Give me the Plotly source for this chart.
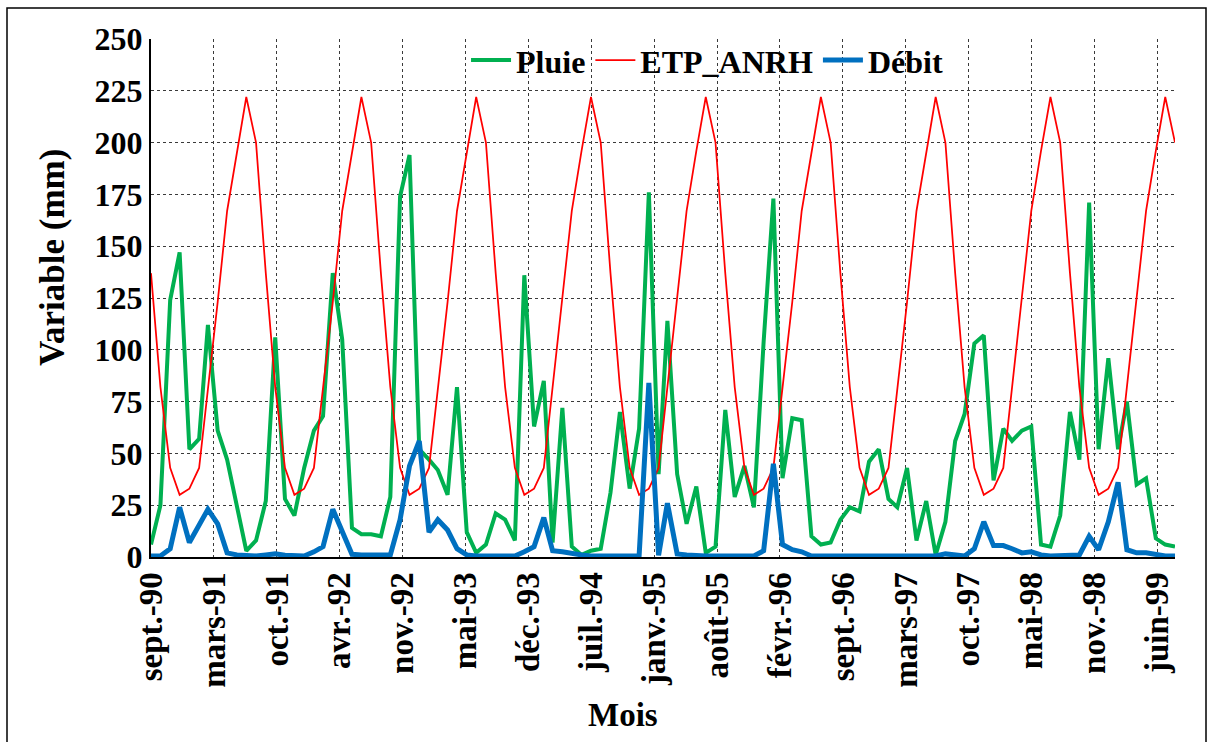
import plotly.graph_objects as go
import pandas as pd

# Monthly series, Sept 1990 -> Aug 1999 (108 months)
months = pd.date_range("1990-09-01", periods=108, freq="MS")

pluie = [6, 25, 124, 147, 52, 57, 112, 61, 47, 25, 3, 8,
         27, 106, 28, 20, 43, 61, 68, 137, 105, 14, 11, 11,
         10, 29, 174, 194, 52, 47, 42, 30, 82, 12, 2, 6,
         21, 18, 8, 136, 63, 85, 7, 72, 5, 1, 3, 4,
         31, 70, 33, 62, 176, 40, 114, 40, 16, 34, 2, 5,
         71, 29, 44, 24, 104, 173, 38, 67, 66, 10, 6, 7,
         18, 24, 22, 46, 52, 28, 24, 43, 8, 27, 1, 17,
         56, 69, 103, 107, 37, 62, 56, 61, 63, 6, 5, 20,
         70, 47, 171, 52, 96, 52, 75, 35, 38, 9, 6, 5]

etp_anrh = [137, 82, 43, 30, 33, 43, 81, 123, 167, 196, 222, 200,
            137, 82, 43, 30, 33, 43, 81, 123, 167, 196, 222, 200,
            137, 82, 43, 30, 33, 43, 81, 123, 167, 196, 222, 200,
            137, 82, 43, 30, 33, 43, 81, 123, 167, 196, 222, 200,
            137, 82, 43, 30, 33, 43, 81, 123, 167, 196, 222, 200,
            137, 82, 43, 30, 33, 43, 81, 123, 167, 196, 222, 200,
            137, 82, 43, 30, 33, 43, 81, 123, 167, 196, 222, 200,
            137, 82, 43, 30, 33, 43, 81, 123, 167, 196, 222, 200,
            137, 82, 43, 30, 33, 43, 81, 123, 167, 196, 222, 200]

debit = [0.5, 0.5, 4, 24, 7, 15, 23, 16, 2, 1, 0.5, 0.5,
         1, 1.5, 0.8, 0.5, 0.5, 2.5, 5, 23, 12, 1.3, 1, 0.8,
         0.8, 1, 18, 44, 56, 12, 18, 13, 4, 1, 0.5, 0.5,
         0.5, 0.5, 0.5, 2.5, 5, 19, 3, 2.5, 1.5, 1, 0.5, 0.5,
         0.5, 0.5, 0.5, 0.5, 84, 0.8, 26, 1.5, 1, 0.5, 0.5, 0.5,
         0.5, 0.5, 0.5, 0.5, 3, 45, 6, 3.5, 2.5, 0.5, 0.5, 0.5,
         0.5, 0.5, 0.5, 0.5, 0.5, 0.5, 0.5, 1, 1, 1, 0.5, 1.5,
         1, 0.5, 4, 17, 5.5, 5.5, 4, 2, 2.5, 1, 0.5, 0.5,
         0.5, 1, 10, 3.5, 17, 36, 3.5, 2, 2, 1, 0.5, 0.5]

# Excel date axis: major unit 200 days
tick_dates = pd.date_range("1990-09-01", periods=17, freq="200D")
tick_labels = ["sept.-90", "mars-91", "oct.-91", "avr.-92", "nov.-92", "mai-93",
               "déc.-93", "juil.-94", "janv.-95", "août-95", "févr.-96", "sept.-96",
               "mars-97", "oct.-97", "mai-98", "nov.-98", "juin-99"]

x_title = "Mois"
y_title = "Variable (mm)"

FONT = "Liberation Serif, Times New Roman, serif"

def f(size):
    return dict(family=FONT, size=size, color="black", weight="bold")

fig = go.Figure()
fig.add_trace(go.Scatter(x=months, y=pluie, name="Pluie", mode="lines",
                         line=dict(color="#00B050", width=4)))
fig.add_trace(go.Scatter(x=months, y=etp_anrh, name="ETP_ANRH", mode="lines",
                         line=dict(color="#FF0000", width=1.75)))
fig.add_trace(go.Scatter(x=months, y=debit, name="Débit", mode="lines",
                         line=dict(color="#0070C0", width=5)))

fig.update_layout(
    width=1214, height=742,
    margin=dict(l=151, r=39, t=39, b=185),
    paper_bgcolor="white", plot_bgcolor="white",
    font=f(32),
    legend=dict(orientation="h", x=0.543, y=0.959, xanchor="center", yanchor="middle",
                bgcolor="rgba(0,0,0,0)", font=f(32),
                itemwidth=40, tracegroupgap=0),
    xaxis=dict(type="date", range=["1990-09-01", "1999-08-01"],
               tickmode="array", tickvals=tick_dates, ticktext=tick_labels,
               tickangle=-90, showgrid=True, gridcolor="#3a3a3a", griddash="dot", gridwidth=1,
               showline=True, linecolor="black", linewidth=2, ticks="",
               tickfont=f(33), zeroline=False),
    yaxis=dict(range=[0, 250], tick0=0, dtick=25,
               showgrid=True, gridcolor="#3a3a3a", griddash="dot", gridwidth=1,
               showline=True, linecolor="black", linewidth=2, ticks="",
               tickfont=f(32), zeroline=False),
    annotations=[
        dict(text=x_title, xref="paper", yref="paper", x=(623 - 151) / 1024, y=(557 - 715) / 518,
             xanchor="center", yanchor="middle", showarrow=False, font=f(33)),
        dict(text=y_title, xref="paper", yref="paper", x=(52 - 151) / 1024, y=(557 - 258) / 518,
             xanchor="center", yanchor="middle", showarrow=False, textangle=-90, font=f(35)),
    ],
    shapes=[dict(type="rect", xref="paper", yref="paper",
                 x0=(7 - 151) / 1024, x1=(1206 - 151) / 1024,
                 y0=(557 - 760) / 518, y1=(557 - 8) / 518,
                 line=dict(color="black", width=1.5), fillcolor="rgba(0,0,0,0)", layer="below")],
)

fig.write_html("out.html")
